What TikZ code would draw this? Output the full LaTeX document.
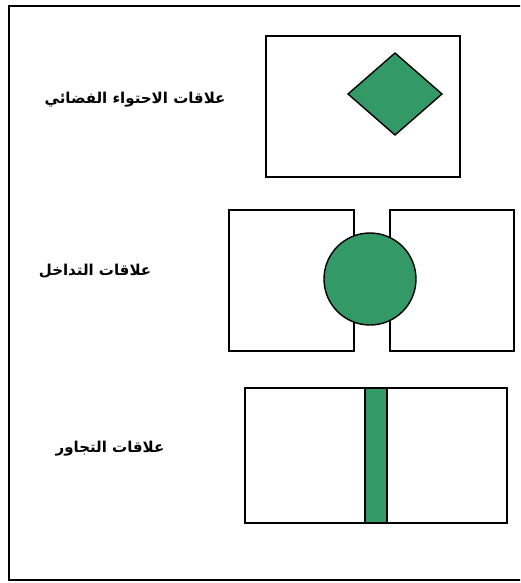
\documentclass[tikz,border=0pt]{standalone}
\usepackage{fontspec}
\TeXXeTstate=1
\newfontfamily\arabicfont[Script=Arabic]{DejaVu Sans}
\definecolor{fillgreen}{RGB}{51,153,102}
\tikzset{
  frame/.style={draw=black, line width=1.2pt},
  roombox/.style={draw=black, line width=1.4pt},
  greenshape/.style={draw=black, line width=1.4pt, fill=fillgreen},
  lbl/.style={font=\arabicfont\bfseries\fontsize{15}{18}\selectfont, inner sep=0pt}
}
\begin{document}
\begin{tikzpicture}[x=1pt,y=-1pt]
\useasboundingbox (0,0) rectangle (520,583);
\fill[white] (0,0) rectangle (520,583);
% outer frame (right edge runs off the picture)
\begin{scope}
\clip (0,0) rectangle (520,583);
\draw[frame] (9,6) rectangle (530,580);
\end{scope}
% containment
\draw[roombox] (266,36) rectangle (460,177);
\draw[greenshape] (395,53) -- (442,94) -- (395,135) -- (348,94) -- cycle;
\node[lbl] (t1) at (135,100) {\beginR علاقات الاحتواء الفضائي\endR};
% overlap
\draw[roombox] (229,210) rectangle (354,351);
\draw[roombox] (390,210) rectangle (514,351);
\draw[greenshape] (370,279) circle (46);
\node[lbl] (t2) at (95,271) {\beginR علاقات التداخل\endR};
% adjacency
\draw[roombox] (245,388) rectangle (507,523);
\draw[greenshape] (365,388) rectangle (387,523);
\node[lbl] (t3) at (110,449) {\beginR علاقات التجاور\endR};
\end{tikzpicture}
\end{document}
